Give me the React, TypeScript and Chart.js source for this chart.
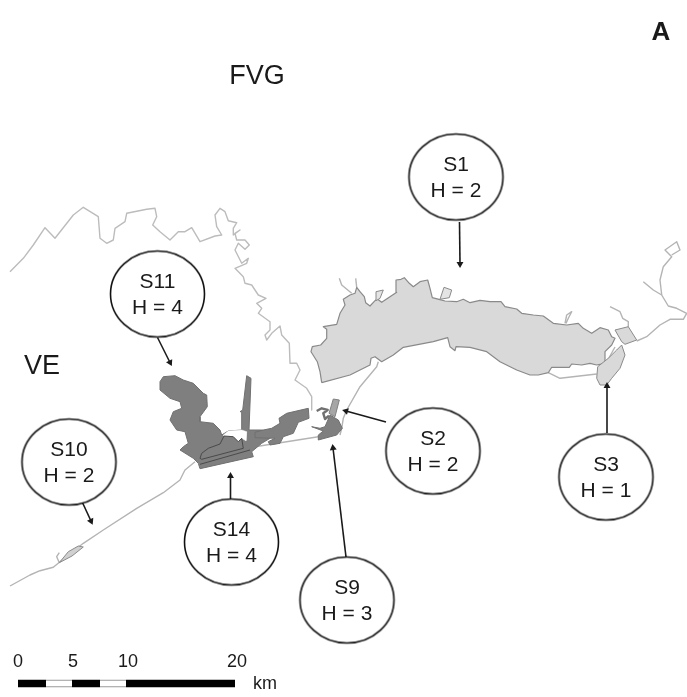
import React, { useEffect, useRef } from "react";
import { Chart, registerables } from "chart.js";

Chart.register(...registerables);

type P = [number, number];

const FONT = '"Liberation Sans", Arial, sans-serif';

// Map outlines, in map units
const lagoon: P[] = [[321.7,382.7],[320,371.7],[317.3,361.7],[311,351.7],[312.3,346.7],[320.7,345],[326.7,338.3],[326.7,329.3],[323.3,326.7],[336.7,324.3],[340,313.3],[345,305],[343.3,299.3],[350,295],[355,293.3],[356.7,287.3],[360,291.7],[364.3,296.7],[365.7,302.7],[370,306],[375,300.7],[377.3,299],[381.7,302.3],[396.7,292.3],[396,280],[401,279.3],[404.3,277.7],[409.3,283.3],[413.3,286.7],[420,281.7],[427.7,280],[430,288.3],[432.3,297.7],[439,299.3],[445,301],[456.7,301.7],[463.3,299.3],[470,302.7],[480,300.3],[490,301.7],[501,301.7],[505,306.7],[516.7,309],[521.7,313.3],[533.3,315],[543.3,316],[553.3,323.3],[566.7,325],[578.3,323.3],[583.3,328.3],[591.7,333.3],[600,327.7],[608.3,330],[611.7,336.7],[615,338.3],[611.7,345],[605,351.7],[605,363.3],[596.7,365],[590,363.3],[581.7,365],[571.7,364],[569.3,367.3],[551.7,367.3],[548.3,372.7],[538.3,375],[530,375],[516.7,370],[500,361.7],[486.7,351.7],[470,347.3],[456,346.7],[455,350.7],[450,346.7],[447.7,337.7],[433.3,341.7],[403.3,347.3],[393.3,355],[381.7,361.7],[375,356.7],[371,358.3],[370,365],[350,375],[321.7,382.7]];
const valleyA: P[] = [[376,291.7],[383.3,290],[380,298.3],[376,300.7],[376,291.7]];
const valleyB: P[] = [[444,287.3],[451.7,290],[449.3,297.7],[440,299.3],[444,287.3]];
const eastSpit: P[] = [[621.7,345],[625,355],[620,368.3],[611.7,378.3],[606.7,385],[600,385],[596.7,378.3],[597.7,366.7],[608.3,358.3],[616.7,350],[621.7,345]];
const eastPatch: P[] = [[615,330],[628.3,326.7],[636.7,340],[625,344.3],[621.7,341.7],[615,330]];
const westStrip: P[] = [[59.3,562.7],[68.3,551.7],[78.3,546],[83.3,547],[72,556],[59.3,562.7]];
const channels: P[][] = [
  [[339.3,278.3],[341.7,285],[351.7,293.3]],
  [[355.7,278.3],[356.7,287.3]],
  [[565,323.3],[566.7,315],[571.7,311.7],[568.3,318.3],[566,323.5]],
  [[553,323],[551,326],[549.5,327.5],[551,329],[553,327.5],[553,323]],
  [[610,306.7],[620,311.7],[622.7,318.3],[628.3,321.7],[628.3,326.7]],
  [[636.7,341],[646.7,336.7],[660,325],[670,319.3],[683.3,319.3],[686.7,313.3],[676.7,308.3],[668.3,306],[661.7,295],[653.3,290],[643.3,281.7]],
  [[661.7,295],[660,280],[663.3,266.7],[671.7,256.7],[665,250],[676.7,241.7],[680,250],[671.7,255]],
  [[548.3,372.7],[560,378.3],[596.7,374]],
  [[605,365],[615,347]],
  [[378.3,361.7],[376.7,366.7],[360,386.7],[346.7,410],[343.3,418.3],[341.7,428.3],[340,435]],
  [[255,446.7],[318.3,436.7]],
  [[195,461.7],[185,470],[183.3,473.3],[180,480],[163.3,492.7],[136.7,508.3],[103.3,530],[83.3,543.3],[60,561.7],[53.3,567.3],[40,570.7],[30,575],[10,586]],
  [[59.3,562.7],[56.7,556.7],[59.3,552.7]],
];
const border: P[] = [[10,271.7],[23.3,258.3],[33.3,245],[45,227.7],[55,238.3],[73.3,215],[83.3,207.3],[98.3,216.7],[100,238.3],[106.7,243.3],[113.3,240],[115,228.3],[125,221.7],[126.7,213.3],[146.7,209.3],[155,208.3],[156.7,216.7],[152.7,225],[160,231.7],[170,240],[178.3,231.7],[185,231.7],[191.7,227.7],[200,241.7],[215,236],[221.7,235],[216.7,226.7],[215,215],[220,208.3],[225,211.7],[228.3,220.7],[236.7,222.7],[233.3,228.3],[233.3,235],[240,230],[235,233.3],[236.7,240],[245,240],[249.3,245],[245,249.3],[238.3,243.3],[235,250],[241.7,263.3],[248.3,258.3],[246.7,263.3],[235,268.3],[243.3,276.7],[245,283.3],[251.7,285],[258.3,295],[266,298.3],[256.7,303.3],[261.7,308.3],[258.3,313.3],[270,321.7],[270,330],[265,335],[266.7,340],[271.7,333.3],[280,326],[281.7,335],[289.3,343.3],[290,363.3],[296.7,363.3],[300,370],[295,380],[306.7,388.3],[311.7,396.7],[311.7,410]];
const darkMain: P[] = [[160,381.7],[163.3,376.7],[175,375.7],[183.3,380],[193.3,383.3],[203.3,393.3],[206.7,395],[207.3,406.7],[200,416.7],[200,421.7],[213.3,423.3],[220,430],[221.7,435],[228.3,431],[241.7,430],[241.7,411.7],[240,411.7],[242.7,410],[246.7,375.7],[251,378.3],[249,430],[261.7,430],[270,431.7],[270,438.3],[261.7,443.3],[251.7,451.7],[253.3,456.7],[200,468.7],[198.3,463.3],[193.3,458.3],[180,450],[183.3,446.7],[188.3,443.3],[185,431.7],[176.7,430],[170,420],[173.3,411.7],[181.7,408.3],[180,401.7],[170,398.3],[160,390],[160,381.7]];
const darkHole: P[] = [[223.3,435],[228.3,431],[241.7,430],[246.7,431.7],[246,440.7],[241.7,438.3],[238.3,441.7],[233.3,436.7],[225,438],[223.3,435]];
const darkInner: P[] = [[200,458.3],[201.7,453.3],[208.3,448.3],[220,444],[224,436],[233.3,436.7],[238.3,441.7],[241.7,438.3],[243.3,448.3],[201.7,459.3],[200,458.3]];
const darkEdge: P[] = [[200,464.3],[250,450]];
const darkEast: P[] = [[255,432.3],[263.3,430],[271.7,428.3],[280,423.3],[279,418.3],[286.7,413.3],[308.3,408.3],[309,418.3],[298.3,422.3],[293.3,433.3],[283.3,436.7],[280,443.3],[270,445],[268.3,441.7],[275,438.3],[255,437.7],[255,432.3]];
const darkS9: P[] = [[311.7,426.7],[320,428.3],[325,426.7],[330,415],[338.3,420],[342.3,428.3],[336.7,435],[318.3,440],[318.3,435],[323.3,431],[311.7,426.7]];
const darkHook: P[] = [[316.7,411],[321.7,408.3],[327.7,410],[323.3,413.3],[325,419],[329,415.7]];
const midPatch: P[] = [[333.3,399],[339.3,400],[335,416.7],[329,413.3],[333.3,399]];

// Sites
const siteNames = ["S1", "S2", "S3", "S9", "S10", "S11", "S14"];
const siteH = [2, 2, 1, 3, 2, 4, 4];
const siteX = [456, 433, 606, 347, 69, 157.5, 231.5];
const siteY = [177, 451, 477, 600, 462, 294, 542];

// Arrows, from site to target
const arrows: [P, P][] = [
  [[459.5, 222], [460, 264]],
  [[386, 422], [346, 411]],
  [[607, 433], [607, 386]],
  [[346, 557], [333, 448]],
  [[81.5, 500.5], [91, 521]],
  [[157.5, 337.5], [170, 362.5]],
  [[230.5, 503], [230.5, 476]],
];

// Scale bar
const barKm = [0, 5, 10, 20];
const barTickX = [18, 73, 128, 237];
const barBlack: P[][] = [[[18, 683.5], [46, 683.5]], [[72, 683.5], [100, 683.5]], [[126, 683.5], [235, 683.5]]];
const barWhite: P[][] = [[[46, 683.5], [72, 683.5]], [[100, 683.5], [126, 683.5]]];

// Place names
const placeNames = ["FVG", "VE"];
const placeX = [257, 42];
const placeY = [77, 367];

const pts = (a: P[]) => a.map(([x, y]) => ({ x, y }));

const ellipseMark = () => {
  const c = document.createElement("canvas");
  c.width = 99;
  c.height = 91;
  const g = c.getContext("2d")!;
  g.beginPath();
  g.ellipse(49.5, 45.5, 47, 43, 0, 0, Math.PI * 2);
  g.fillStyle = "#ffffff";
  g.fill();
  g.lineWidth = 1.6;
  g.strokeStyle = "#111111";
  g.stroke();
  return c;
};

const line = (a: P[], color: string, width: number, fill?: string) => ({
  data: pts(a),
  showLine: true,
  borderColor: color,
  borderWidth: width,
  backgroundColor: fill ?? "transparent",
  fill: fill ? ("shape" as const) : false,
  pointRadius: 0,
  tension: 0,
  borderCapStyle: "butt" as const,
  borderJoinStyle: "round" as const,
});

const textPlugin = {
  id: "mapText",
  afterDraw(chart: any) {
    const { ctx, scales } = chart;
    const X = (v: number) => scales.x.getPixelForValue(v);
    const Y = (v: number) => scales.y.getPixelForValue(v);
    ctx.save();
    ctx.textAlign = "center";
    ctx.textBaseline = "middle";
    ctx.fillStyle = "#1a1a1a";
    ctx.font = `21px ${FONT}`;
    siteNames.forEach((n, i) => {
      ctx.fillText(n, X(siteX[i]), Y(siteY[i] - 11.5));
      ctx.fillText(`H = ${siteH[i]}`, X(siteX[i]), Y(siteY[i] + 14));
    });
    ctx.font = `27px ${FONT}`;
    placeNames.forEach((n, i) => ctx.fillText(n, X(placeX[i]), Y(placeY[i])));
    ctx.font = `bold 26px ${FONT}`;
    ctx.fillText("A", X(661), Y(33));
    ctx.font = `18px ${FONT}`;
    barKm.forEach((k, i) => ctx.fillText(String(k), X(barTickX[i]), Y(662)));
    ctx.fillText("km", X(265), Y(684));
    ctx.restore();
  },
};

export default function App() {
  const ref = useRef<HTMLCanvasElement>(null);
  useEffect(() => {
    const mark = ellipseMark();
    // listed bottom layer first; reversed below because Chart.js paints the first dataset last
    const layers: any[] = [
      line(border, "#bcbcbc", 1.4),
      ...channels.map((c) => line(c, "#b4b4b4", 1.4)),
      line(lagoon, "#8a8a8a", 1.2, "#d9d9d9"),
      line(valleyA, "#8a8a8a", 1, "#e4e4e4"),
      line(valleyB, "#8a8a8a", 1, "#e4e4e4"),
      line(eastPatch, "#8a8a8a", 1, "#d9d9d9"),
      line(eastSpit, "#8a8a8a", 1, "#d9d9d9"),
      line(westStrip, "#8a8a8a", 1, "#d0d0d0"),
      line(darkMain, "#707070", 1, "#7f7f7f"),
      line(darkHole, "#ffffff", 0.5, "#ffffff"),
      line(darkInner, "#4a4a4a", 1, "#808080"),
      line(darkEdge, "#4a4a4a", 1),
      line(darkEast, "#707070", 1, "#7f7f7f"),
      line(midPatch, "#808080", 1, "#a6a6a6"),
      line(darkS9, "#707070", 1, "#7f7f7f"),
      line(darkHook, "#707070", 2.4),
      ...arrows.map(([a, b]) => ({
        ...line([a, b], "#1a1a1a", 1.6),
        pointRadius: [0, 4],
        pointStyle: "triangle",
        pointRotation: (Math.atan2(b[0] - a[0], a[1] - b[1]) * 180) / Math.PI,
        pointBackgroundColor: "#1a1a1a",
        pointBorderWidth: 0,
      })),
      {
        data: siteX.map((x, i) => ({ x, y: siteY[i] })),
        pointStyle: mark,
        pointRadius: 47,
        showLine: false,
      },
      ...barBlack.map((s) => line(s, "#000000", 7.5)),
      ...barWhite.map((s) => line(s, "#9a9a9a", 7.5)),
      ...barWhite.map((s) => line(s, "#ffffff", 5.5)),
    ];
    const chart = new Chart(ref.current!, {
      type: "scatter",
      data: { datasets: layers.reverse() },
      options: {
        responsive: false,
        animation: false,
        devicePixelRatio: 1,
        layout: { padding: 0, autoPadding: false },
        plugins: { legend: { display: false }, tooltip: { enabled: false } },
        scales: {
          x: { type: "linear", min: 0, max: 687, display: false },
          y: { type: "linear", min: 0, max: 697, reverse: true, display: false },
        },
      },
      plugins: [textPlugin],
    } as any);
    return () => chart.destroy();
  }, []);
  return (
    <div style={{ position: "fixed", left: 0, top: 0, width: 687, height: 697, background: "#fff" }}>
      <canvas ref={ref} width={687} height={697} style={{ display: "block" }} />
    </div>
  );
}
